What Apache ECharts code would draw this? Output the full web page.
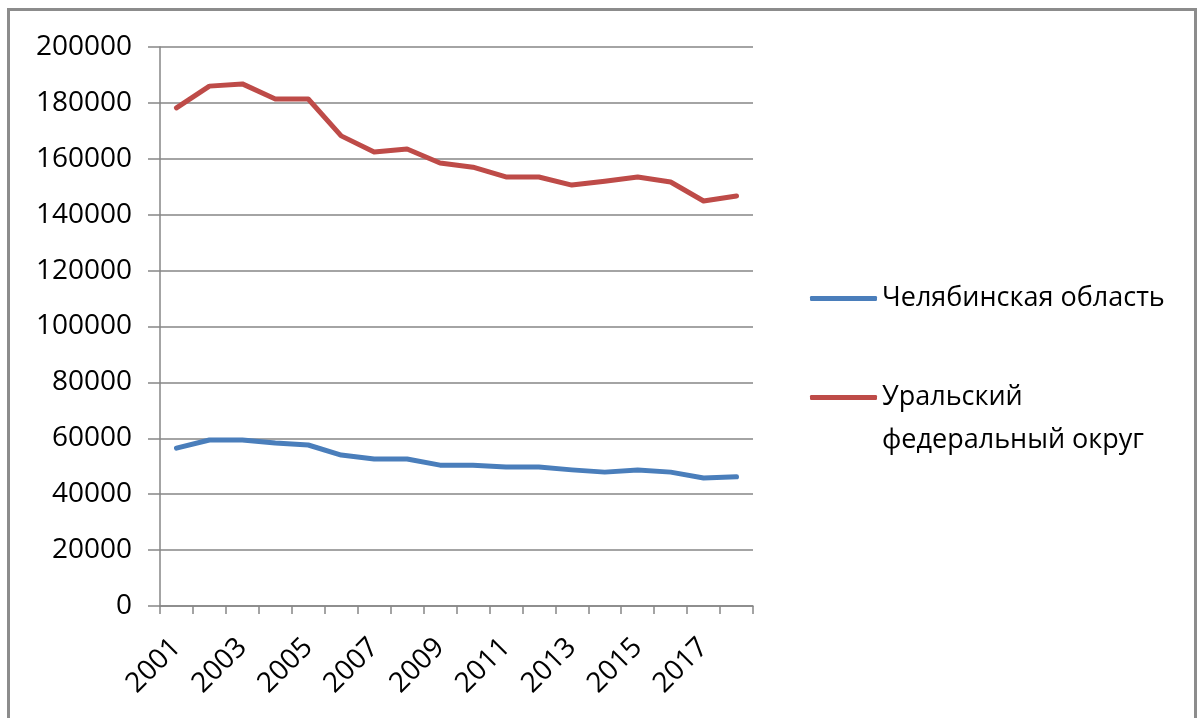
<!DOCTYPE html>
<html>
<head>
<meta charset="utf-8">
<script src="https://cdn.jsdelivr.net/npm/echarts@6/dist/echarts.min.js"></script>
<style>
  html, body { margin: 0; padding: 0; background: #fff; }
  #wrap { position: relative; width: 1198px; height: 718px; overflow: hidden; }
  #frame {
    position: absolute; left: 7px; top: 8px; width: 1190px; height: 730px;
    border: 3px solid #8c8c8c; box-sizing: border-box;
  }
  #chart { position: absolute; left: 0; top: 0; width: 1198px; height: 718px; }
</style>
</head>
<body>
<div id="wrap">
  <div id="frame"></div>
  <div id="chart"></div>
</div>
<script>
const years = ['2001', '2002', '2003', '2004', '2005', '2006', '2007', '2008', '2009',
  '2010', '2011', '2012', '2013', '2014', '2015', '2016', '2017', '2018'];
const chelyabinsk = [56500, 59400, 59400, 58300, 57600, 54000, 52600, 52600, 50400,
  50400, 49700, 49700, 48700, 47900, 48700, 47900, 45800, 46200];
const ural = [178200, 186000, 186800, 181400, 181400, 168200, 162400, 163500, 158500,
  157000, 153500, 153500, 150600, 152000, 153500, 151700, 144900, 146700];
const names = ['Челябинская область', 'Уральский федеральный округ'];

const font = '"Open Sans", "Liberation Sans", sans-serif';
const chart = echarts.init(document.getElementById('chart'));
chart.setOption({
  animation: false,
  backgroundColor: 'transparent',
  textStyle: { fontFamily: font },
  grid: { left: 160, right: 445, top: 47, bottom: 112, containLabel: false },
  legend: {
    orient: 'vertical',
    left: 805,
    top: 272,
    itemGap: 13,
    itemWidth: 67,
    itemHeight: 5,
    icon: 'roundRect',
    // leading blank line keeps the icon level with the first text line
    formatter: (n) => n === names[1] ? '\nУральский\nфедеральный округ' : n,
    textStyle: { fontFamily: font, fontSize: 27, color: '#000', lineHeight: 43 },
    data: names
  },
  xAxis: {
    type: 'category',
    data: years,
    boundaryGap: true,
    axisLine: { lineStyle: { color: '#868686', width: 1.5 } },
    axisTick: { show: true, interval: 0, length: 8, lineStyle: { color: '#868686', width: 1.5 } },
    axisLabel: {
      interval: 1, rotate: 45, fontSize: 28, color: '#000', fontFamily: font, margin: 37
    },
    splitLine: { show: false }
  },
  yAxis: {
    type: 'value',
    min: 0,
    max: 200000,
    interval: 20000,
    axisLine: { show: true, lineStyle: { color: '#868686', width: 1.5 } },
    axisTick: { show: true, length: 12, lineStyle: { color: '#868686', width: 1.5 } },
    axisLabel: {
      fontSize: 28, color: '#000', fontFamily: font, margin: 28,
      formatter: (v) => String(v)
    },
    splitLine: { show: true, lineStyle: { color: '#868686', width: 1.5 } }
  },
  series: [
    {
      name: names[0], type: 'line', data: chelyabinsk, symbol: 'none',
      lineStyle: { color: '#4a7ebb', width: 5, cap: 'round', join: 'round' },
      itemStyle: { color: '#4a7ebb' }
    },
    {
      name: names[1], type: 'line', data: ural, symbol: 'none',
      lineStyle: { color: '#be4b48', width: 5, cap: 'round', join: 'round' },
      itemStyle: { color: '#be4b48' }
    }
  ]
});
</script>
</body>
</html>
